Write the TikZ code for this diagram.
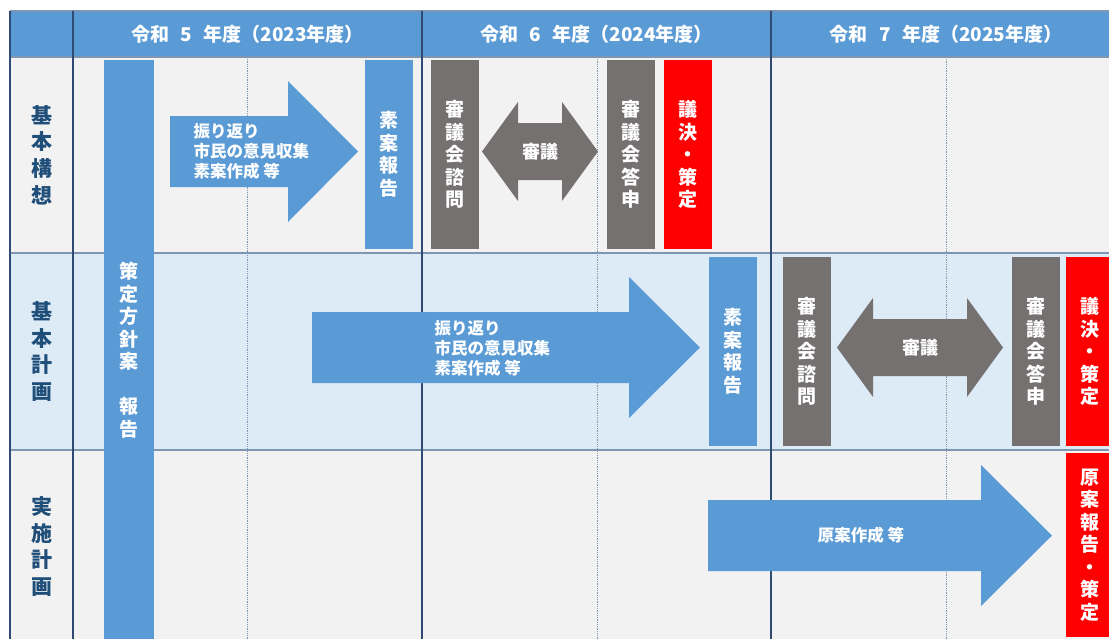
\documentclass[tikz,border=0pt]{standalone}
\usepackage{fontspec}
\setmainfont{Noto Sans CJK JP}
\usepackage{tikz}

\definecolor{headblue}{HTML}{5B9BD5}
\definecolor{barblue}{HTML}{5B9BD5}
\definecolor{bargray}{HTML}{767171}
\definecolor{barred}{HTML}{FF0000}
\definecolor{rowgray}{HTML}{F2F2F2}
\definecolor{rowblue}{HTML}{DDEBF7}
\definecolor{gridnavy}{HTML}{2F4B73}
\definecolor{gridline}{HTML}{7F96B2}
\definecolor{labelnavy}{HTML}{1F4E79}

\begin{document}
\begin{tikzpicture}[x=1pt, y=-1pt,
        yearhead/.style={text=white, font=\fontsize{19}{22}\selectfont\bfseries},
        rowlabel/.style={text=labelnavy, align=center, font=\fontsize{21}{26.7}\selectfont\bfseries},
        bar/.style={inner sep=0, align=center, text=white, minimum width=48, font=\fontsize{19}{22.5}\selectfont\bfseries},
        bluebar/.style={bar, fill=barblue},
        graybar/.style={bar, fill=bargray},
        redbar/.style={bar, fill=barred},
        arrowtext/.style={text=white, align=left, font=\fontsize{16.5}{20}\selectfont\bfseries}]
        \pgfmathsetmacro{\barh}{189};
        \pgfmathsetmacro{\rowa}{154.5};
        \pgfmathsetmacro{\rowb}{351.5};
        \useasboundingbox (0,0) rectangle (1109,638);
        \clip (0,0) rectangle (1109,638);
        % table
        \fill [headblue] (10,11) rectangle (1120,57);
        \fill [rowgray] (10,57) rectangle (1120,253);
        \fill [rowblue] (10,253) rectangle (1120,450);
        \fill [rowgray] (10,450) rectangle (1120,645);
        \foreach \y in {11,57,253,450}
            \draw [gridline, line width=1.5] (10,\y) -- (1120,\y);
        \foreach \x in {10,73,422,771}
            \draw [gridnavy, line width=1.2] (\x,11) -- (\x,645);
        \foreach \x in {247,597,946}
            \draw [gridline, densely dotted, line width=0.8] (\x,57) -- (\x,645);
        \node [yearhead] (r5) at (247.5,34) {令和\hspace{0.6em}5\hspace{0.6em}年度（2023年度）};
        \node [yearhead] (r6) at (596.5,34) {令和\hspace{0.6em}6\hspace{0.6em}年度（2024年度）};
        \node [yearhead] (r7) at (946,34) {令和\hspace{0.6em}7\hspace{0.6em}年度（2025年度）};
        \node [rowlabel] (koso) at (41.5,155) {基\\本\\構\\想};
        \node [rowlabel] (keikaku) at (41.5,351.5) {基\\本\\計\\画};
        \node [rowlabel] (jisshi) at (41.5,546.5) {実\\施\\計\\画};
        % arrows
        \foreach \xa/\xb/\xt/\yc in {170/288/358/151.5, 312/629/700/347.5, 708/981/1052/535.5}
            \fill [barblue] (\xa,\yc-35.5) -- (\xb,\yc-35.5) -- (\xb,\yc-70.5) -- (\xt,\yc)
                -- (\xb,\yc+70.5) -- (\xb,\yc+35.5) -- (\xa,\yc+35.5) -- cycle;
        \foreach \xa/\xb/\yc in {482/598/151.5, 837/1003/347.5}
            \fill [bargray] (\xa,\yc) -- (\xa+36,\yc-49.5) -- (\xa+36,\yc-28.5) -- (\xb-36,\yc-28.5)
                -- (\xb-36,\yc-49.5) -- (\xb,\yc) -- (\xb-36,\yc+49.5) -- (\xb-36,\yc+28.5)
                -- (\xa+36,\yc+28.5) -- (\xa+36,\yc+49.5) -- cycle;
        \node [arrowtext, anchor=west] (work1) at (190,151.5) {振り返り\\市民の意見収集\\素案作成 等};
        \node [arrowtext, anchor=west] (work2) at (431,348) {振り返り\\市民の意見収集\\素案作成 等};
        \node [arrowtext] (work3) at (861,535.5) {原案作成 等};
        \node [arrowtext, font=\fontsize{18}{20}\selectfont\bfseries] (shingi1) at (540,151.5) {審議};
        \node [arrowtext, font=\fontsize{18}{20}\selectfont\bfseries] (shingi2) at (920,347.5) {審議};
        % bars
        \node [bluebar, minimum width=50, minimum height=580] (hoshin) at (129,350) {策\\定\\方\\針\\案\\　\\報\\告};
        \node [bluebar, minimum height=\barh] (soan1) at (388.5,\rowa) {素\\案\\報\\告};
        \node [graybar, minimum height=\barh] (shimon1) at (455,\rowa) {審\\議\\会\\諮\\問};
        \node [graybar, minimum height=\barh] (toshin1) at (630.5,\rowa) {審\\議\\会\\答\\申};
        \node [redbar, minimum height=\barh] (sakutei1) at (688,\rowa) {議\\決\\・\\策\\定};
        \node [bluebar, minimum height=\barh] (soan2) at (732.5,\rowb) {素\\案\\報\\告};
        \node [graybar, minimum height=\barh] (shimon2) at (807,\rowb) {審\\議\\会\\諮\\問};
        \node [graybar, minimum height=\barh] (toshin2) at (1036,\rowb) {審\\議\\会\\答\\申};
        \node [redbar, minimum height=\barh] (sakutei2) at (1090,\rowb) {議\\決\\・\\策\\定};
        \node [redbar, minimum height=184] (genan) at (1090,545) {原\\案\\報\\告\\・\\策\\定};
    \end{tikzpicture}
\end{document}
